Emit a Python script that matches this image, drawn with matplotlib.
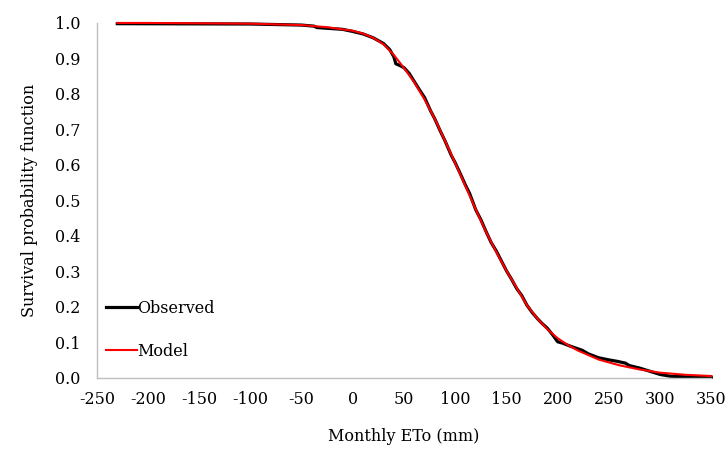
import matplotlib
matplotlib.use("Agg")
import matplotlib.pyplot as plt

# observed survival curve
obs_x = [-230, -100, -50, -38, -35, -10, 0, 10, 20, 30, 36, 40, 42, 46, 50, 55,
         60, 65, 70, 76, 80, 85, 90, 96, 100, 105, 110, 114, 120, 125, 130, 135,
         140, 145, 150, 155, 160, 165, 170, 175, 180, 185, 190, 195, 200, 205,
         212, 218, 224, 230, 240, 250, 258, 266, 270, 280, 290, 300, 310, 330, 350]
obs_y = [0.998, 0.997, 0.994, 0.991, 0.987, 0.982, 0.976, 0.969, 0.958, 0.942,
         0.925, 0.905, 0.885, 0.880, 0.874, 0.858, 0.835, 0.812, 0.790, 0.752,
         0.730, 0.698, 0.668, 0.628, 0.606, 0.575, 0.543, 0.520, 0.474, 0.446,
         0.413, 0.382, 0.358, 0.330, 0.302, 0.278, 0.252, 0.232, 0.205, 0.185,
         0.168, 0.153, 0.140, 0.122, 0.102, 0.098, 0.090, 0.084, 0.078, 0.068,
         0.057, 0.051, 0.047, 0.042, 0.035, 0.028, 0.019, 0.010, 0.005, 0.003,
         0.002]

# fitted model
mod_x = [-230, -200, -150, -100, -50, -25, 0, 10, 20, 30, 40, 50, 60, 70, 80, 90,
         100, 110, 120, 130, 140, 150, 160, 170, 180, 190, 200, 210, 220, 240,
         260, 280, 300, 325, 350]
mod_y = [1.000, 1.000, 0.999, 0.998, 0.994, 0.988, 0.978, 0.970, 0.958, 0.940,
         0.910, 0.873, 0.833, 0.785, 0.730, 0.668, 0.605, 0.540, 0.475, 0.412,
         0.355, 0.302, 0.254, 0.205, 0.168, 0.137, 0.112, 0.093, 0.077, 0.052,
         0.036, 0.024, 0.015, 0.009, 0.0056]

x_ticks = list(range(-250, 351, 50))
y_ticks = [i / 10 for i in range(11)]

plt.rcParams["font.family"] = ["DejaVu Serif"]
plt.rcParams["font.size"] = 11.5

fig = plt.figure(figsize=(7.28, 4.5), dpi=100)
ax = fig.add_axes([0.133, 0.16, 0.844, 0.789])

ax.plot(obs_x, obs_y, color="black", linewidth=2.3, label="Observed", clip_on=False)
ax.plot(mod_x, mod_y, color="#ff0000", linewidth=1.5, label="Model", clip_on=False)

ax.set_xlim(-250, 350)
ax.set_ylim(0, 1.0)
ax.set_xticks(x_ticks)
ax.set_xticklabels([str(v) for v in x_ticks])
ax.set_yticks(y_ticks)
ax.set_yticklabels([f"{v:.1f}" for v in y_ticks])
ax.tick_params(length=0)
ax.tick_params(axis="y", pad=12)
ax.tick_params(axis="x", pad=9)

for s in ["top", "right"]:
    ax.spines[s].set_visible(False)
for s in ["left", "bottom"]:
    ax.spines[s].set_color("#bfbfbf")
    ax.spines[s].set_linewidth(1)

ax.set_xlabel("Monthly ETo (mm)", labelpad=15)
ax.set_ylabel("Survival probability function", labelpad=12)

ax.legend(loc="lower left", bbox_to_anchor=(0.146, 0.2), bbox_transform=fig.transFigure,
          frameon=False, handlelength=1.9, handletextpad=0.05, labelspacing=1.65,
          borderaxespad=0, borderpad=0)

fig.savefig("out.png", dpi=100)
